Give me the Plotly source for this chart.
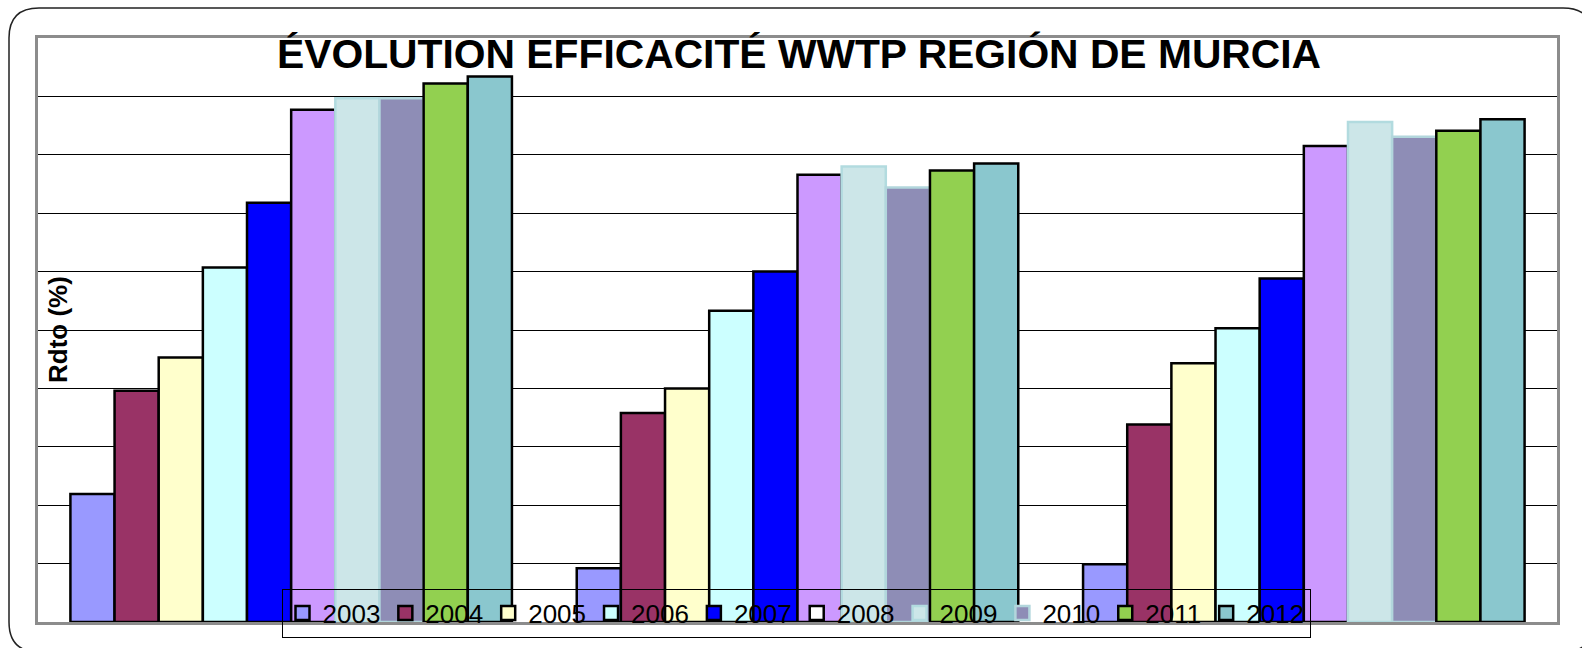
import plotly.graph_objects as go

# ---- data ----
categories = ["DBO5", "DQO", "SS"]
years = ["2003", "2004", "2005", "2006", "2007", "2008", "2009", "2010", "2011", "2012"]
v2003 = [21.9, 9.2, 9.9]
v2004 = [39.6, 35.8, 33.8]
v2005 = [45.3, 40.0, 44.3]
v2006 = [60.7, 53.3, 50.3]
v2007 = [71.8, 60.0, 58.8]
v2008 = [87.7, 76.6, 81.5]
v2009 = [89.7, 78.0, 85.6]
v2010 = [89.7, 74.4, 83.1]
v2011 = [92.2, 77.3, 84.1]
v2012 = [93.4, 78.5, 86.1]
series = [v2003, v2004, v2005, v2006, v2007, v2008, v2009, v2010, v2011, v2012]

colors = ["#9999FF", "#993366", "#FFFFCC", "#CCFFFF", "#0000FF",
          "#CC99FF", "#CCE6E8", "#8E8DB6", "#92D050", "#8AC7CE"]
outlines = ["#000000", "#000000", "#000000", "#000000", "#000000",
            "#000000", "#B2DBDF", "#B2D6DC", "#000000", "#000000"]
legend_fills = ["#9999FF", "#993366", "#FFFFCC", "#CCFFFF", "#0000FF",
                "#FFFFFF", "#CCE6E8", "#8E8DB6", "#92D050", "#8AC7CE"]

title_text = "ÉVOLUTION EFFICACITÉ WWTP REGIÓN DE MURCIA"
ytitle = "Rdto (%)"

W, H = 1582, 648
L, R, T, B = 38, 1557, 38, 622


def px(x):
    return (x - L) / (R - L)


def py(y):
    return (B - y) / (B - T)


fig = go.Figure()
for name, vals, c, oc in zip(years, series, colors, outlines):
    fig.add_trace(go.Bar(
        x=categories, y=vals, name=name, showlegend=False, legendgroup=name,
        marker=dict(color=c, line=dict(color=oc, width=2.5)),
    ))
# legend entries (square swatches)
for name, lf, oc in zip(years, legend_fills, outlines):
    fig.add_trace(go.Scatter(
        x=[None], y=[None], mode="markers", name=name, legendgroup=name,
        marker=dict(symbol="square", size=14, color=lf,
                    line=dict(color=oc, width=2.5)),
    ))

# rounded outer frame (open at the bottom, which lies below the page)
x0, y0, x1, y1, r = 9, 8, 1593, 652, 30


def P(x, y):
    return f"{px(x):.5f},{py(y):.5f}"


path = (f"M {P(x0 + r, y1)} Q {P(x0, y1)} {P(x0, y1 - r)} "
        f"L {P(x0, y0 + r)} Q {P(x0, y0)} {P(x0 + r, y0)} "
        f"L {P(x1 - r, y0)} Q {P(x1, y0)} {P(x1, y0 + r)} "
        f"L {P(x1, y1 - r)} Q {P(x1, y1)} {P(x1 - r, y1)}")

FONT = "Liberation Sans, Arial, sans-serif"

fig.update_layout(
    width=W, height=H,
    margin=dict(l=L, r=W - R, t=T, b=H - B, autoexpand=False),
    paper_bgcolor="white", plot_bgcolor="white",
    barmode="group", bargap=0.128, bargroupgap=0,
    font=dict(family=FONT, color="black"),
    showlegend=True,
    legend=dict(
        orientation="h", xref="container", yref="container",
        x=281.5 / W, y=(H - 588.5) / H, xanchor="left", yanchor="top",
        bgcolor="rgba(0,0,0,0)", bordercolor="black", borderwidth=1,
        font=dict(size=26, family=FONT),
        traceorder="normal", itemclick=False, itemdoubleclick=False,
    ),
    xaxis=dict(showticklabels=False, ticks="", showline=True, mirror=True,
               linecolor="#8c8c8c", linewidth=2.5, showgrid=False),
    yaxis=dict(range=[0, 100], dtick=10, showticklabels=False, ticks="",
               showgrid=True, gridcolor="black", gridwidth=1, zeroline=False,
               showline=True, mirror=True, linecolor="#8c8c8c", linewidth=2.5),
    shapes=[dict(type="path", xref="paper", yref="paper", path=path,
                 line=dict(color="#222222", width=1.5), fillcolor="rgba(0,0,0,0)",
                 layer="above")],
    annotations=[
        dict(text=f"<b>{title_text}</b>", xref="paper", yref="paper",
             x=px(798.5), y=py(54), xanchor="center", yanchor="middle",
             showarrow=False, font=dict(size=40.8, family=FONT)),
        dict(text=f"<b>{ytitle}</b>", xref="paper", yref="paper",
             x=px(58), y=py(330), xanchor="center", yanchor="middle", textangle=-90,
             showarrow=False, font=dict(size=26, family=FONT)),
    ],
)

fig.write_html(
    "out.html",
    config={"displayModeBar": False},
    post_script="document.body.style.margin='0';document.body.style.overflow='hidden';",
)
